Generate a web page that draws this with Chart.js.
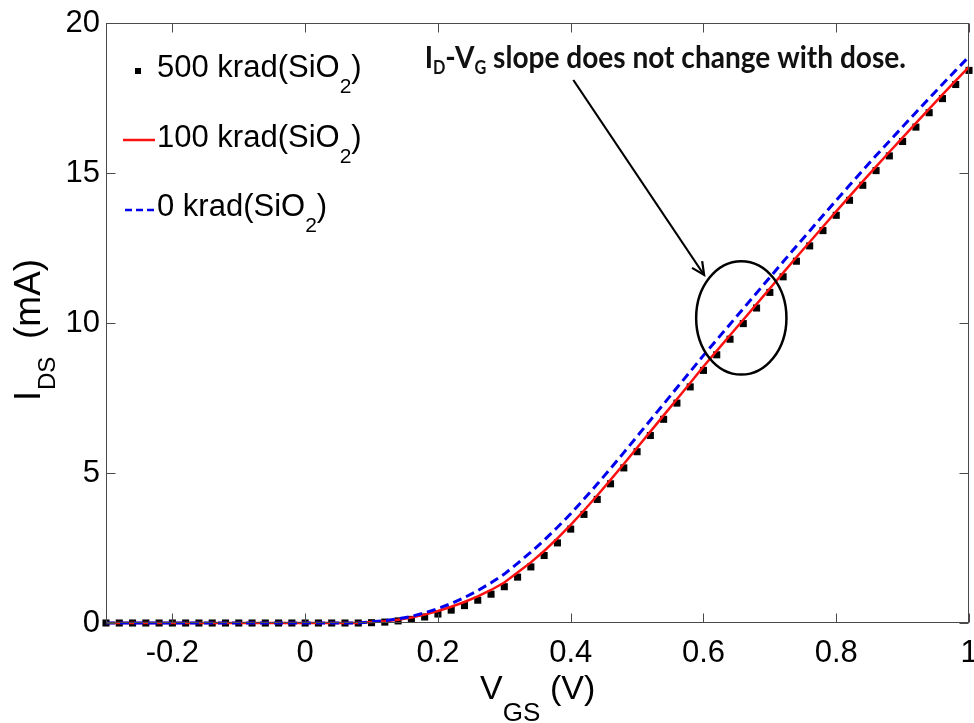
<!DOCTYPE html>
<html><head><meta charset="utf-8">
<script src="https://cdn.jsdelivr.net/npm/chart.js@4/dist/chart.umd.min.js"></script>
<style>html,body{margin:0;padding:0;background:#fff;}#wrap{width:974px;height:723px;position:relative;}</style>
</head><body><div id="wrap"><canvas id="c" width="974" height="723"></canvas></div>
<script>
// ---- data ----
const vgs = [-0.30,-0.28,-0.26,-0.24,-0.22,-0.20,-0.18,-0.16,-0.14,-0.12,-0.10,-0.08,-0.06,-0.04,-0.02,0.00,0.02,0.04,0.06,0.08,
  0.10,0.12,0.14,0.16,0.18,0.20,0.22,0.24,0.26,0.28,0.30,0.32,0.34,0.36,0.38,0.40,
  0.42,0.44,0.46,0.48,0.50,0.52,0.54,0.56,0.58,0.60,0.62,0.64,0.66,0.68,0.70,0.72,0.74,0.76,0.78,0.80,
  0.82,0.84,0.86,0.88,0.90,0.92,0.94,0.96,0.98,1.00];
const ids500 = [0,0,0,0,0,0,0,0,0,0,0,0,0,0,0,0,0,0,0,0,
  0.01,0.03,0.07,0.12,0.20,0.30,0.43,0.58,0.76,0.96,1.21,1.53,1.87,2.25,2.67,3.13,
  3.62,4.12,4.64,5.17,5.71,6.25,6.79,7.33,7.87,8.42,8.94,9.46,9.98,10.50,11.02,11.54,12.06,12.57,13.08,13.59,
  14.09,14.59,15.08,15.57,16.05,16.53,17.01,17.48,17.95,18.42];
const ids100 = [0,0,0,0,0,0,0,0,0,0,0,0,0,0,0,0,0,0,0,0,
  0.03,0.06,0.11,0.18,0.28,0.40,0.54,0.70,0.89,1.10,1.35,1.68,2.02,2.40,2.82,3.27,
  3.75,4.25,4.77,5.30,5.84,6.38,6.92,7.46,8.00,8.55,9.07,9.59,10.11,10.63,11.15,11.67,12.19,12.70,13.21,13.72,
  14.22,14.72,15.21,15.70,16.18,16.66,17.14,17.61,18.08,18.54];
const ids0 = [0,0,0,0,0,0,0,0,0,0,0,0,0,0,0,0,0,0,0,0,
  0.04,0.08,0.14,0.22,0.34,0.48,0.65,0.85,1.08,1.34,1.63,1.99,2.36,2.76,3.19,3.64,
  4.13,4.63,5.15,5.68,6.22,6.76,7.30,7.84,8.38,8.92,9.44,9.96,10.48,11.00,11.52,12.04,12.56,13.07,13.58,14.09,
  14.59,15.09,15.58,16.06,16.54,17.02,17.49,17.96,18.42,18.88];
const xTicks = [-0.2,0,0.2,0.4,0.6,0.8,1];
const xTickLabels = ['-0.2','0','0.2','0.4','0.6','0.8','1'];
const yTicks = [0,5,10,15,20];
const yTickLabels = ['0','5','10','15','20'];
const seriesNames = ['500 krad(SiO','100 krad(SiO','0 krad(SiO'];
const seriesSub = '2';
const xTitle = ['V','GS','(V)'];
const yTitle = ['I','DS','(mA)'];
const noteParts = [['I',0],['D',1],['-V',0],['G',1],[' slope does not change with dose.',0]];

// ---- annotation geometry (in data units) ----
const noteAt = {x:0.18, y:18.5, xEnd:0.905};
const arrowFrom = {x:0.404, y:18.1};
const arrowTo = {x:0.601, y:11.6};
const ring = {cx:0.657, cy:10.17, rx:0.068, ry:1.89};

const FONT = '"Liberation Sans", Arial, sans-serif';
const toPts = ys => vgs.map((v,i)=>({x:v, y:ys[i]}));

const decor = {
  id:'decor',
  afterDatasetsDraw(chart){
    const ctx = chart.ctx, a = chart.chartArea, sx = chart.scales.x, sy = chart.scales.y;
    ctx.save();
    // frame + inward ticks on all sides
    ctx.strokeStyle = '#4a4a4a'; ctx.lineWidth = 1;
    const L = Math.round(a.left)+0.5, R = Math.round(a.right)-0.5, T = Math.round(a.top)+0.5, B = Math.round(a.bottom)-0.5;
    ctx.strokeRect(L, T, R-L, B-T);
    const tl = 9;
    ctx.beginPath();
    xTicks.forEach(v=>{ const p = Math.round(sx.getPixelForValue(v))+0.5; ctx.moveTo(p,B); ctx.lineTo(p,B-tl); ctx.moveTo(p,T); ctx.lineTo(p,T+tl); });
    yTicks.forEach(v=>{ const p = Math.round(sy.getPixelForValue(v))+0.5; ctx.moveTo(L,p); ctx.lineTo(L+tl,p); ctx.moveTo(R,p); ctx.lineTo(R-tl,p); });
    ctx.stroke();

    // ellipse
    ctx.strokeStyle = '#000'; ctx.lineWidth = 2.5;
    const ecx = sx.getPixelForValue(ring.cx), ecy = sy.getPixelForValue(ring.cy);
    const erx = sx.getPixelForValue(ring.cx+ring.rx)-ecx, ery = ecy - sy.getPixelForValue(ring.cy+ring.ry);
    ctx.beginPath(); ctx.ellipse(ecx, ecy, erx, ery, 0, 0, Math.PI*2); ctx.stroke();

    // arrow
    const x1 = sx.getPixelForValue(arrowFrom.x), y1 = sy.getPixelForValue(arrowFrom.y);
    const x2 = sx.getPixelForValue(arrowTo.x), y2 = sy.getPixelForValue(arrowTo.y);
    ctx.lineWidth = 2.2;
    ctx.beginPath(); ctx.moveTo(x1,y1); ctx.lineTo(x2,y2); ctx.stroke();
    const ang = Math.atan2(y2-y1, x2-x1), hl = 14, hw = 0.45;
    ctx.beginPath();
    ctx.moveTo(x2 - hl*Math.cos(ang-hw), y2 - hl*Math.sin(ang-hw)); ctx.lineTo(x2,y2);
    ctx.lineTo(x2 - hl*Math.cos(ang+hw), y2 - hl*Math.sin(ang+hw));
    ctx.stroke();

    // annotation text (bold, compressed to its width)
    ctx.fillStyle = '#111';
    ctx.textBaseline = 'alphabetic'; ctx.textAlign = 'left';
    const big = 'bold 31px Lato, "Open Sans", sans-serif', small = 'bold 18px Lato, "Open Sans", sans-serif';
    let tw = 0;
    noteParts.forEach(([t,s])=>{ ctx.font = s?small:big; tw += ctx.measureText(t).width; });
    const nx = sx.getPixelForValue(noteAt.x), nx2 = sx.getPixelForValue(noteAt.xEnd), ny = sy.getPixelForValue(noteAt.y);
    ctx.save(); ctx.translate(nx, ny); ctx.scale((nx2-nx)/tw, 1);
    let cx = 0;
    noteParts.forEach(([t,s])=>{ ctx.font = s?small:big; ctx.fillText(t, cx, s?6:0); cx += ctx.measureText(t).width; });
    ctx.restore();

    // legend
    ctx.fillStyle = '#000';
    const rows = [77,147,216];
    const tx = 157;
    rows.forEach((by,i)=>{
      ctx.font = '31px '+FONT; ctx.fillText(seriesNames[i], tx, by);
      let w = ctx.measureText(seriesNames[i]).width;
      ctx.font = '21px '+FONT; ctx.fillText(seriesSub, tx+w, by+16);
      w += ctx.measureText(seriesSub).width;
      ctx.font = '31px '+FONT; ctx.fillText(')', tx+w, by);
    });
    ctx.fillStyle = '#000'; ctx.fillRect(135, 68, 6, 6);
    ctx.strokeStyle = '#ff1010'; ctx.lineWidth = 2.5; ctx.setLineDash([]);
    ctx.beginPath(); ctx.moveTo(123,140); ctx.lineTo(155,140); ctx.stroke();
    ctx.strokeStyle = '#0000ee'; ctx.setLineDash([7,4]);
    ctx.beginPath(); ctx.moveTo(125,210); ctx.lineTo(156,210); ctx.stroke();
    ctx.setLineDash([]);

    // x title
    ctx.fillStyle = '#000';
    ctx.font = '34px '+FONT; ctx.fillText(xTitle[0], 480, 699);
    let w = ctx.measureText(xTitle[0]).width;
    ctx.font = '26px '+FONT; ctx.fillText(xTitle[1], 480+w, 721);
    ctx.font = '34px '+FONT; ctx.fillText(xTitle[2], 550, 699);

    // y title
    ctx.save(); ctx.translate(40, 401); ctx.rotate(-Math.PI/2);
    ctx.font = '36px '+FONT; ctx.fillText(yTitle[0], 0, 0);
    ctx.font = '24px '+FONT; ctx.fillText(yTitle[1], 11, 15);
    ctx.font = '37px '+FONT; ctx.fillText(yTitle[2], 62, 0);
    ctx.restore();
    ctx.restore();
  }
};

new Chart(document.getElementById('c'), {
  type:'scatter',
  data:{ datasets:[
    { label:'500 krad(SiO2)', data:toPts(ids500), showLine:false, pointStyle:'rect', pointRadius:5,
      pointBackgroundColor:'#000', pointBorderColor:'#000', pointBorderWidth:0, order:3, clip:6 },
    { label:'100 krad(SiO2)', data:toPts(ids100), showLine:true, borderColor:'#ff1010', borderWidth:2.5,
      pointRadius:0, tension:0, order:2, clip:6 },
    { label:'0 krad(SiO2)', data:toPts(ids0), showLine:true, borderColor:'#0000ee', borderWidth:3, borderDash:[9,5],
      pointRadius:0, tension:0, order:1, clip:6 }
  ]},
  options:{
    responsive:false, animation:false, devicePixelRatio:1,
    layout:{ padding:{left:0, right:4, top:23, bottom:0} },
    plugins:{ legend:{display:false}, tooltip:{enabled:false} },
    scales:{
      x:{ type:'linear', min:-0.3, max:1.0,
        afterBuildTicks(s){ s.ticks = xTicks.map(v=>({value:v})); },
        ticks:{ callback:(v,i)=>xTickLabels[i], font:{family:'Liberation Sans', size:31}, color:'#000', padding:12, maxRotation:0, autoSkip:false },
        grid:{ display:false, drawTicks:false }, border:{ display:false },
        afterFit(s){ s.height = 100; s.paddingLeft = 0; s.paddingRight = 0; } },
      y:{ type:'linear', min:0, max:20,
        afterBuildTicks(s){ s.ticks = yTicks.map(v=>({value:v})); },
        ticks:{ callback:(v,i)=>yTickLabels[i], font:{family:'Liberation Sans', size:31}, color:'#000', padding:6 },
        grid:{ display:false, drawTicks:false }, border:{ display:false },
        afterFit(s){ s.width = 106; s.paddingTop = 0; s.paddingBottom = 0; } }
    }
  },
  plugins:[decor]
});
</script></body></html>
